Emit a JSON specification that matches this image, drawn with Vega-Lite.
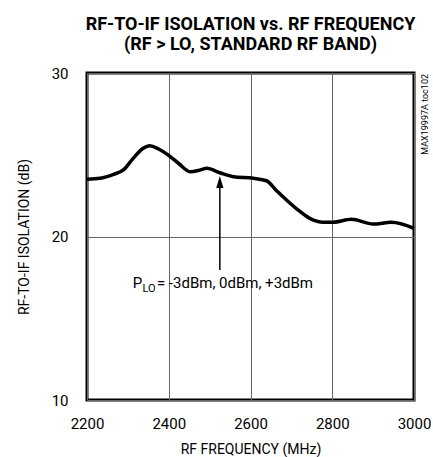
{
  "$schema": "https://vega.github.io/schema/vega-lite/v6.json",
  "width": 327,
  "height": 327,
  "autosize": "none",
  "padding": {"left": 87, "top": 73, "right": 19, "bottom": 57},
  "config": {
    "font": "Roboto, sans-serif",
    "view": {"stroke": "black", "strokeWidth": 3}
  },
  "title": {
    "text": ["RF-TO-IF ISOLATION vs. RF FREQUENCY", "\u00a0\u00a0\u00a0\u00a0\u00a0(RF > LO, STANDARD RF BAND)"],
    "font": "Roboto, sans-serif",
    "fontSize": 18,
    "fontWeight": "bold",
    "lineHeight": 20,
    "anchor": "middle",
    "offset": 12,
    "color": "black"
  },
  "datasets": {
    "curve": [
      {"freq": 2200, "iso": 23.5},
      {"freq": 2232, "iso": 23.56},
      {"freq": 2265, "iso": 23.8},
      {"freq": 2289, "iso": 24.07},
      {"freq": 2313, "iso": 24.78},
      {"freq": 2335, "iso": 25.35},
      {"freq": 2354, "iso": 25.55},
      {"freq": 2375, "iso": 25.35},
      {"freq": 2399, "iso": 24.98},
      {"freq": 2425, "iso": 24.45},
      {"freq": 2452, "iso": 23.96},
      {"freq": 2475, "iso": 24.05},
      {"freq": 2493, "iso": 24.17},
      {"freq": 2525, "iso": 23.9},
      {"freq": 2558, "iso": 23.66},
      {"freq": 2607, "iso": 23.56},
      {"freq": 2639, "iso": 23.41},
      {"freq": 2662, "iso": 22.85},
      {"freq": 2688, "iso": 22.23},
      {"freq": 2715, "iso": 21.65},
      {"freq": 2745, "iso": 21.11},
      {"freq": 2778, "iso": 20.87},
      {"freq": 2802, "iso": 20.87},
      {"freq": 2847, "iso": 21.05},
      {"freq": 2900, "iso": 20.76},
      {"freq": 2945, "iso": 20.87},
      {"freq": 3000, "iso": 20.5}
    ]
  },
  "layer": [
    {
      "data": {"name": "curve"},
      "mark": {"type": "line", "color": "black", "strokeWidth": 3.5, "interpolate": "monotone"},
      "encoding": {
        "x": {
          "field": "freq", "type": "quantitative",
          "scale": {"domain": [2200, 3000], "nice": false},
          "axis": {
            "values": [2200, 2400, 2600, 2800, 3000],
            "format": "d",
            "title": "RF FREQUENCY (MHz)",
            "grid": true, "gridColor": "#666", "gridWidth": 1, "gridOpacity": 1,
            "domain": false, "ticks": false, "tickSize": 0,
            "labelFontSize": 15, "labelColor": "black", "labelPadding": 16,
            "labelOverlap": false, "labelBound": false, "labelFlush": false,
            "titleFontSize": 14, "titleFontWeight": "normal", "titleColor": "black", "titlePadding": 11
          }
        },
        "y": {
          "field": "iso", "type": "quantitative",
          "scale": {"domain": [10, 30], "nice": false, "zero": false},
          "axis": {
            "values": [10, 20, 30],
            "title": "RF-TO-IF ISOLATION (dB)",
            "grid": true, "gridColor": "#666", "gridWidth": 1, "gridOpacity": 1,
            "domain": false, "ticks": false, "tickSize": 0,
            "labelFontSize": 15, "labelColor": "black", "labelPadding": 19,
            "titleFontSize": 14, "titleFontWeight": "normal", "titleColor": "black", "titlePadding": 20
          }
        }
      }
    },
    {
      "data": {"values": [{"freq": 2525, "y1": 17.95, "y2": 22.97}]},
      "mark": {"type": "rule", "color": "black", "strokeWidth": 1.5},
      "encoding": {
        "x": {"field": "freq", "type": "quantitative"},
        "y": {"field": "y1", "type": "quantitative"},
        "y2": {"field": "y2"}
      }
    },
    {
      "data": {"values": [{"freq": 2525, "iso": 23.33}]},
      "mark": {"type": "point", "shape": "M-0.6,1L0,-1L0.6,1Z", "size": 144, "filled": true, "color": "black", "opacity": 1},
      "encoding": {
        "x": {"field": "freq", "type": "quantitative"},
        "y": {"field": "iso", "type": "quantitative"}
      }
    },
    {
      "data": {"values": [{"freq": 2311.7, "iso": 16.85, "label": "P"}]},
      "mark": {"type": "text", "align": "left", "baseline": "alphabetic", "fontSize": 15, "color": "black"},
      "encoding": {
        "x": {"field": "freq", "type": "quantitative"},
        "y": {"field": "iso", "type": "quantitative"},
        "text": {"field": "label"}
      }
    },
    {
      "data": {"values": [{"freq": 2335.6, "iso": 16.6, "label": "LO"}]},
      "mark": {"type": "text", "align": "left", "baseline": "alphabetic", "fontSize": 11, "color": "black"},
      "encoding": {
        "x": {"field": "freq", "type": "quantitative"},
        "y": {"field": "iso", "type": "quantitative"},
        "text": {"field": "label"}
      }
    },
    {
      "data": {"values": [{"freq": 2371, "iso": 16.85, "label": "= -3dBm, 0dBm, +3dBm"}]},
      "mark": {"type": "text", "align": "left", "baseline": "alphabetic", "fontSize": 15, "color": "black"},
      "encoding": {
        "x": {"field": "freq", "type": "quantitative"},
        "y": {"field": "iso", "type": "quantitative"},
        "text": {"field": "label"}
      }
    },
    {
      "data": {"values": [{"freq": 3000, "iso": 30, "label": "MAX19997A toc102"}]},
      "mark": {"type": "text", "angle": 270, "align": "right", "baseline": "middle", "dx": -1, "dy": 11, "fontSize": 9, "color": "black", "font": "Roboto, sans-serif"},
      "encoding": {
        "x": {"field": "freq", "type": "quantitative"},
        "y": {"field": "iso", "type": "quantitative"},
        "text": {"field": "label"}
      }
    }
  ]
}
